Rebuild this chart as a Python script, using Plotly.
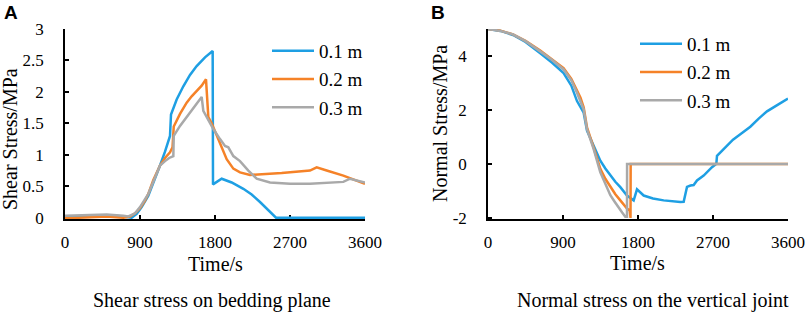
import plotly.graph_objects as go

W, H = 809, 313

# ---------------- Panel A: shear stress on bedding plane ----------------
tA_01 = [0, 300, 500, 700, 800, 860, 920, 1000, 1060, 1140, 1200, 1260, 1272, 1340, 1420, 1500, 1580, 1680, 1772, 1776, 1880, 2000, 2140, 2240, 2340, 2440, 2532, 3600]
sA_01 = [0.01, 0.03, 0.04, 0.02, 0.0, 0.06, 0.17, 0.35, 0.55, 0.83, 1.05, 1.3, 1.64, 1.88, 2.09, 2.27, 2.41, 2.55, 2.65, 0.53, 0.62, 0.56, 0.46, 0.37, 0.25, 0.12, 0.0, 0.0]

tA_02 = [0, 200, 500, 700, 780, 840, 900, 960, 1000, 1060, 1140, 1200, 1260, 1290, 1305, 1380, 1460, 1520, 1580, 1640, 1692, 1720, 1760, 1820, 1880, 1940, 2020, 2100, 2220, 2600, 2940, 3020, 3140, 3340, 3600]
sA_02 = [-0.01, 0.0, 0.02, 0.0, 0.02, 0.07, 0.15, 0.27, 0.38, 0.6, 0.83, 0.95, 1.04, 1.12, 1.45, 1.65, 1.83, 1.93, 2.01, 2.1, 2.2, 1.6, 1.5, 1.3, 1.1, 0.93, 0.78, 0.72, 0.68, 0.71, 0.75, 0.8, 0.75, 0.67, 0.54]

tA_03 = [0, 300, 500, 700, 760, 840, 900, 1000, 1060, 1140, 1200, 1250, 1300, 1305, 1380, 1460, 1560, 1640, 1660, 1720, 1780, 1860, 1920, 1960, 2020, 2100, 2200, 2300, 2460, 2700, 2940, 3340, 3420, 3600]
sA_03 = [0.03, 0.04, 0.05, 0.03, 0.02, 0.07, 0.17, 0.38, 0.58, 0.83, 0.9, 0.95, 0.98, 1.3, 1.46, 1.6, 1.78, 1.92, 1.7, 1.55, 1.41, 1.25, 1.14, 1.12, 0.98, 0.9, 0.75, 0.62, 0.56, 0.54, 0.54, 0.57, 0.62, 0.56]

# ---------------- Panel B: normal stress on the vertical joint ----------------
tB_01 = [0, 150, 300, 450, 627, 770, 907, 1000, 1068, 1110, 1148, 1188, 1268, 1348, 1408, 1468, 1528, 1588, 1668, 1748, 1788, 1868, 1980, 2108, 2200, 2308, 2348, 2368, 2388, 2430, 2468, 2508, 2588, 2688, 2740, 2748, 2828, 2940, 3028, 3148, 3248, 3348, 3480, 3600]
sB_01 = [5.0, 4.93, 4.78, 4.52, 4.1, 3.75, 3.37, 2.9, 2.33, 2.1, 1.9, 1.23, 0.67, 0.12, -0.17, -0.43, -0.66, -0.86, -1.17, -1.35, -0.94, -1.17, -1.28, -1.35, -1.38, -1.41, -1.4, -1.1, -0.85, -0.8, -0.78, -0.61, -0.43, -0.12, 0.0, 0.3, 0.55, 0.9, 1.1, 1.38, 1.68, 1.95, 2.2, 2.42]

tB_02 = [0, 150, 300, 450, 627, 770, 907, 1000, 1068, 1110, 1148, 1188, 1268, 1348, 1408, 1468, 1528, 1588, 1630, 1668, 1700, 1710, 1712, 3600]
sB_02 = [5.0, 4.94, 4.8, 4.56, 4.2, 3.88, 3.55, 3.15, 2.75, 2.45, 2.1, 1.35, 0.6, -0.18, -0.55, -0.86, -1.12, -1.35, -1.52, -1.65, -1.72, -2.0, 0.0, 0.0]

tB_03 = [0, 150, 300, 450, 627, 770, 907, 1000, 1068, 1110, 1148, 1188, 1268, 1348, 1408, 1468, 1520, 1560, 1610, 1648, 1668, 1669, 3600]
sB_03 = [5.0, 4.93, 4.8, 4.55, 4.17, 3.85, 3.5, 3.1, 2.64, 2.35, 2.02, 1.29, 0.55, -0.31, -0.75, -1.16, -1.4, -1.6, -1.8, -1.96, -1.96, 0.0, 0.0]

series_names = ["0.1 m", "0.2 m", "0.3 m"]
colors = ["#1E9FE3", "#F58228", "#A9A9A9"]

x_ticks = [0, 900, 1800, 2700, 3600]
yA_ticks = [0, 0.5, 1, 1.5, 2, 2.5, 3]
yA_labels = ["0", "0.5", "1", "1.5", "2", "2.5", "3"]
yB_ticks = [-2, 0, 2, 4]
yB_labels = ["-2", "0", "2", "4"]

FONT = "Liberation Serif"

fig = go.Figure()
panelA = [(tA_01, sA_01), (tA_02, sA_02), (tA_03, sA_03)]
panelB = [(tB_01, sB_01), (tB_02, sB_02), (tB_03, sB_03)]
for i, (t, s) in enumerate(panelA):
    fig.add_trace(go.Scatter(x=t, y=s, mode="lines", name=series_names[i],
                             line=dict(color=colors[i], width=2.5),
                             xaxis="x", yaxis="y", legend="legend",
                             legendgroup="a%d" % i))
for i, (t, s) in enumerate(panelB):
    fig.add_trace(go.Scatter(x=t, y=s, mode="lines", name=series_names[i],
                             line=dict(color=colors[i], width=2.5),
                             xaxis="x2", yaxis="y2", legend="legend2",
                             legendgroup="b%d" % i))

def px(x):
    return x / W

def py(y):
    return 1 - y / H

axis_common = dict(showline=True, linecolor="black", linewidth=1.5,
                   ticks="inside", ticklen=4, tickwidth=1.5, tickcolor="black",
                   showgrid=False, zeroline=False, layer="below traces",
                   automargin=False,
                   tickfont=dict(family=FONT, size=17, color="black"))

fig.update_layout(
    width=W, height=H,
    margin=dict(l=0, r=0, t=0, b=0),
    paper_bgcolor="white", plot_bgcolor="white",
    font=dict(family=FONT, color="black"),
    xaxis=dict(domain=[px(65), px(365)], range=[0, 3600], tickvals=x_ticks,
               anchor="y", ticklabelstandoff=7, **axis_common),
    yaxis=dict(domain=[py(219), py(29)], range=[-0.02, 3], tickvals=yA_ticks,
               ticktext=yA_labels, anchor="x", ticklabelstandoff=16, **axis_common),
    xaxis2=dict(domain=[px(488), px(788)], range=[0, 3600], tickvals=x_ticks,
                anchor="y2", ticklabelstandoff=7, **axis_common),
    yaxis2=dict(domain=[py(219), py(29)], range=[-2.04, 5], tickvals=yB_ticks,
                ticktext=yB_labels, anchor="x2", ticklabelstandoff=16, **axis_common),
    legend=dict(x=px(267), y=py(32), xanchor="left", yanchor="top",
                font=dict(family=FONT, size=19, color="black"),
                bgcolor="rgba(0,0,0,0)", tracegroupgap=0.5, itemwidth=42),
    legend2=dict(x=px(635), y=py(25), xanchor="left", yanchor="top",
                 font=dict(family=FONT, size=19, color="black"),
                 bgcolor="rgba(0,0,0,0)", tracegroupgap=0.5, itemwidth=42),
    showlegend=True,
)

ann = [
    dict(text="<b>A</b>", x=px(11), y=py(13), font=dict(family="Liberation Sans", size=19)),
    dict(text="<b>B</b>", x=px(438), y=py(12), font=dict(family="Liberation Sans", size=19)),
    dict(text="Shear Stress/MPa", x=px(10), y=py(139), textangle=-90, font=dict(family=FONT, size=20)),
    dict(text="Normal Stress/MPa", x=px(440), y=py(124), textangle=-90, font=dict(family=FONT, size=20)),
    dict(text="Time/s", x=px(215), y=py(264), font=dict(family=FONT, size=20)),
    dict(text="Time/s", x=px(637), y=py(263), font=dict(family=FONT, size=20)),
    dict(text="Shear stress on bedding plane", x=px(212), y=py(300), font=dict(family=FONT, size=20)),
    dict(text="Normal stress on the vertical joint", x=px(653), y=py(300), font=dict(family=FONT, size=20)),
]
for a in ann:
    a.update(xref="paper", yref="paper", showarrow=False, xanchor="center", yanchor="middle")
    fig.add_annotation(**a)

fig.write_html("out.html", config={"displayModeBar": False},
               post_script="document.body.style.margin='0px';document.body.style.overflow='hidden';")
